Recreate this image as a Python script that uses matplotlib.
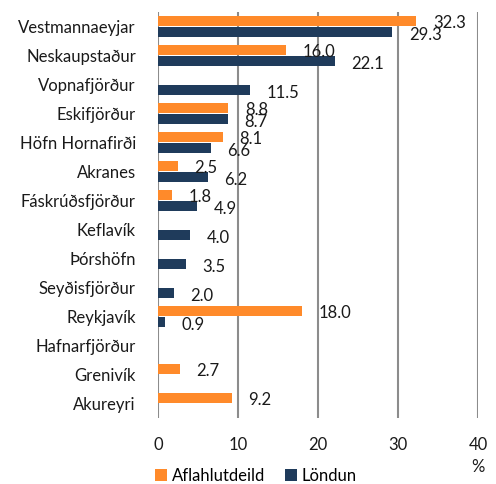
import numpy as np
import matplotlib.pyplot as plt

plt.rcParams["font.family"] = ["Lato", "DejaVu Sans"]

ports = ["Vestmannaeyjar", "Neskaupstaður", "Vopnafjörður", "Eskifjörður",
         "Höfn Hornafirði", "Akranes", "Fáskrúðsfjörður", "Keflavík",
         "Þórshöfn", "Seyðisfjörður", "Reykjavík", "Hafnarfjörður",
         "Grenivík", "Akureyri"]
aflahlutdeild = [32.3, 16.0, np.nan, 8.8, 8.1, 2.5, 1.8, np.nan,
                 np.nan, np.nan, 18.0, np.nan, 2.7, 9.2]
londun = [29.3, 22.1, 11.5, 8.7, 6.6, 6.2, 4.9, 4.0,
          3.5, 2.0, 0.9, np.nan, np.nan, np.nan]

ORANGE = "#FF8A2A"
NAVY = "#1F3B5B"
GRID = "#8C8C8C"
FS = 12


def main():
    fig = plt.figure(figsize=(4.96, 4.84), dpi=100)
    ax = fig.add_axes([0.3185, 0.1364, 0.6452, 0.8388])

    y = np.arange(len(ports))
    h = 0.34
    off = 0.2
    ax.barh(y - off, aflahlutdeild, height=h, color=ORANGE,
            label="Aflahlutdeild", zorder=3)
    ax.barh(y + off, londun, height=h, color=NAVY,
            label="Löndun", zorder=3)

    for vals, dy in ((aflahlutdeild, -off), (londun, off)):
        for i, v in enumerate(vals):
            if np.isnan(v):
                continue
            ax.annotate(f"{v:.1f}", (v, i + dy), xytext=(12, -2),
                        textcoords="offset points", ha="left", va="center",
                        fontsize=FS, color="#1a1a1a", zorder=4)

    ax.set_xlim(0, 40)
    ax.set_ylim(len(ports) - 0.5, -0.5)
    ax.set_xticks([0, 10, 20, 30, 40])
    ax.set_yticks(y)
    ax.set_yticklabels(ports)
    ax.tick_params(axis="both", length=0, labelsize=FS, colors="#1a1a1a")
    ax.tick_params(axis="y", pad=16)
    ax.tick_params(axis="x", pad=14)
    for s in ax.spines.values():
        s.set_visible(False)
    for gx in [0, 10, 20, 30, 40]:
        ax.axvline(gx, color=GRID, lw=1.5, zorder=1)

    fig.text(478 / 496, 1 - 467 / 484, "%", ha="center", va="center",
             fontsize=FS, color="#1a1a1a")
    ax.legend(loc="center left", bbox_to_anchor=(155 / 496, 1 - 476 / 484),
              bbox_transform=fig.transFigure, ncol=2, frameon=False,
              fontsize=FS, handlelength=0.7, handleheight=0.7,
              handletextpad=0.3, columnspacing=1.2, borderaxespad=0,
              borderpad=0)

    fig.savefig("out.png", dpi=100)
    plt.close(fig)


if __name__ == "__main__":
    main()
